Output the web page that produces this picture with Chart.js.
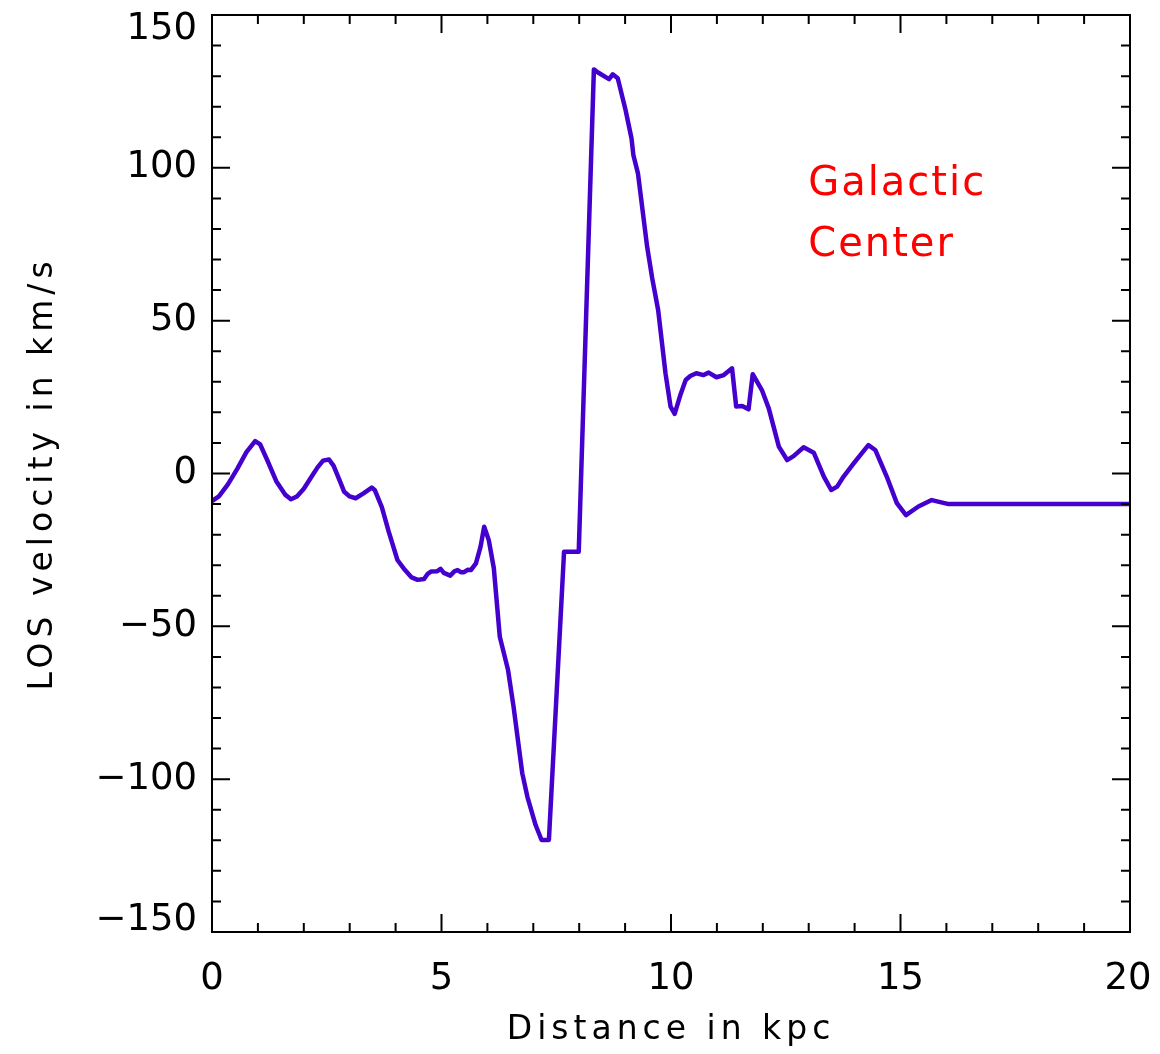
<!DOCTYPE html>
<html>
<head>
<meta charset="utf-8">
<script src="https://cdn.jsdelivr.net/npm/chart.js@4"></script>
<style>
body { margin: 0; background: #fff; }
#wrap { width: 1160px; height: 1054px; position: relative; }
</style>
</head>
<body>
<div id="wrap"><canvas id="losChart"></canvas></div>
<script>
// distance along the line of sight (kpc) and LOS velocity (km/s)
var distKpc = [0, 0.15, 0.35, 0.55, 0.75, 0.94, 1.05, 1.2, 1.4, 1.6, 1.72, 1.85, 2.0, 2.15, 2.3, 2.42, 2.55, 2.65, 2.8, 2.88, 3.0, 3.13, 3.3, 3.48, 3.55, 3.7, 3.85, 4.04, 4.2, 4.35, 4.48, 4.62, 4.7, 4.77, 4.9, 4.98, 5.05, 5.19, 5.28, 5.35, 5.42, 5.49, 5.57, 5.64, 5.75, 5.85, 5.93, 6.03, 6.14, 6.27, 6.45, 6.57, 6.76, 6.87, 7.05, 7.18, 7.34, 7.67, 7.99, 8.32, 8.41, 8.65, 8.73, 8.84, 9.01, 9.14, 9.18, 9.28, 9.48, 9.59, 9.72, 9.88, 9.99, 10.08, 10.2, 10.32, 10.42, 10.55, 10.71, 10.82, 10.99, 11.15, 11.33, 11.42, 11.55, 11.69, 11.78, 11.98, 12.13, 12.35, 12.53, 12.67, 12.89, 13.11, 13.33, 13.49, 13.62, 13.76, 13.98, 14.15, 14.3, 14.45, 14.7, 14.92, 15.12, 15.39, 15.68, 16.05, 20];
var velKms = [-9, -7.5, -3.5, 1.5, 7, 10.6, 9.5, 4.5, -2.5, -7, -8.4, -7.5, -5, -1.5, 2, 4.2, 4.6, 2.5, -3, -6, -7.5, -8.1, -6.5, -4.6, -5.5, -11, -19, -28.3, -31.5, -34, -34.8, -34.5, -32.8, -32.1, -32, -31.2, -32.5, -33.4, -32, -31.6, -32.3, -32.3, -31.5, -31.6, -29.4, -24, -17.4, -21.8, -31, -53.4, -64.3, -76.3, -98.1, -105.7, -115, -119.9, -119.9, -25.6, -25.6, 132.2, 131.2, 129, 130.6, 129.3, 118.9, 109.6, 104.2, 98.2, 74.2, 63.9, 53.5, 32.8, 21.9, 19.5, 25.5, 30.6, 31.9, 32.8, 32.2, 33, 31.5, 32.2, 34.4, 21.9, 22.1, 21, 32.5, 27.3, 21.3, 8.8, 4.4, 5.7, 8.6, 6.8, -1, -5.4, -4.3, -1, 3.3, 6.5, 9.3, 7.7, -1, -9.7, -13.6, -10.8, -8.7, -10, -10];

var xTicks = [0, 5, 10, 15, 20];
var yTicks = [-150, -100, -50, 0, 50, 100, 150];
var labelLines = ['Galactic', 'Center'];

var FONT = '"DejaVu Sans", sans-serif';

function buildPoints(xs, ys){
	var pts = [];
	for (var i = 0; i < xs.length; i++){
		pts.push({x: xs[i], y: ys[i]});
	};
	return pts;
};

function fmtMinus(v){
	return String(v).replace('-', '\u2212');
};

// wide Hershey-like spacing for the axis titles
var spacingPlugin = {
	id: 'spacing',
	beforeDraw: function(chart){
		chart.ctx.letterSpacing = '5px';
	}
};

// IDL-style frame with inward major/minor ticks on all four sides, plus tick labels
var framePlugin = {
	id: 'frame',
	afterDatasetsDraw: function(chart){
		var ctx = chart.ctx;
		var a = chart.chartArea;
		var xs = chart.scales.x, ys = chart.scales.y;
		ctx.save();
		ctx.letterSpacing = '0px';
		ctx.strokeStyle = '#000';
		ctx.lineWidth = 2;
		ctx.strokeRect(a.left, a.top, a.right - a.left, a.bottom - a.top);
		ctx.beginPath();
		for (var v = 0; v <= 20; v++){
			var px = xs.getPixelForValue(v);
			var len = (v % 5 === 0) ? 18 : 9;
			ctx.moveTo(px, a.bottom); ctx.lineTo(px, a.bottom - len);
			ctx.moveTo(px, a.top); ctx.lineTo(px, a.top + len);
		};
		for (var w = -150; w <= 150; w += 10){
			var py = ys.getPixelForValue(w);
			var l2 = (w % 50 === 0) ? 18 : 9;
			ctx.moveTo(a.left, py); ctx.lineTo(a.left + l2, py);
			ctx.moveTo(a.right, py); ctx.lineTo(a.right - l2, py);
		};
		ctx.stroke();

		ctx.fillStyle = '#000';
		ctx.font = '37px ' + FONT;
		ctx.textBaseline = 'middle';
		ctx.textAlign = 'right';
		for (var j = 0; j < yTicks.length; j++){
			var ty = ys.getPixelForValue(yTicks[j]);
			ty = Math.min(Math.max(ty, a.top + 14), a.bottom - 12);
			ctx.fillText(fmtMinus(yTicks[j]), a.left - 15, ty);
		};
		ctx.textAlign = 'center';
		for (var k = 0; k < xTicks.length; k++){
			var tx0 = xs.getPixelForValue(xTicks[k]);
			if (k === xTicks.length - 1) tx0 -= 2;
			ctx.fillText(String(xTicks[k]), tx0, a.bottom + 47);
		};

		ctx.fillStyle = '#ff0000';
		ctx.font = '40px ' + FONT;
		ctx.letterSpacing = '2px';
		ctx.textAlign = 'left';
		var tx = xs.getPixelForValue(12.99);
		ctx.fillText(labelLines[0], tx, ys.getPixelForValue(94.4));
		ctx.fillText(labelLines[1], tx, ys.getPixelForValue(74.7));
		ctx.restore();
	}
};

var ctx = document.getElementById('losChart').getContext('2d');
var myChart = new Chart(ctx, {
	type: 'line',
	data: {
		datasets: [{
			data: buildPoints(distKpc, velKms),
			borderColor: '#4400cc',
			borderWidth: 4.5,
			borderJoinStyle: 'round',
			pointRadius: 0,
			tension: 0,
			fill: false
		}]
	},
	options: {
		responsive: true,
		maintainAspectRatio: false,
		animation: false,
		layout: { padding: { top: 15, right: 30, left: 0, bottom: 0 } },
		plugins: { legend: { display: false }, tooltip: { enabled: false } },
		scales: {
			x: {
				type: 'linear',
				min: 0, max: 20,
				afterBuildTicks: function(s){ s.ticks = xTicks.map(function(v){ return {value: v}; }); },
				afterFit: function(s){ s.height = 122; s.paddingLeft = 0; s.paddingRight = 0; },
				grid: { display: false, drawTicks: false },
				border: { display: false },
				ticks: { display: false },
				title: { display: true, text: 'Distance in kpc', color: '#000', font: { family: FONT, size: 33 }, padding: { top: 0, bottom: 4 } }
			},
			y: {
				type: 'linear',
				min: -150, max: 150,
				afterBuildTicks: function(s){ s.ticks = yTicks.map(function(v){ return {value: v}; }); },
				afterFit: function(s){ s.width = 212; s.paddingTop = 0; s.paddingBottom = 0; },
				grid: { display: false, drawTicks: false },
				border: { display: false },
				ticks: { display: false },
				title: { display: true, text: 'LOS velocity in km/s', color: '#000', font: { family: FONT, size: 33 }, padding: { top: 24, bottom: 0 } }
			}
		}
	},
	plugins: [spacingPlugin, framePlugin]
});
</script>
</body>
</html>
